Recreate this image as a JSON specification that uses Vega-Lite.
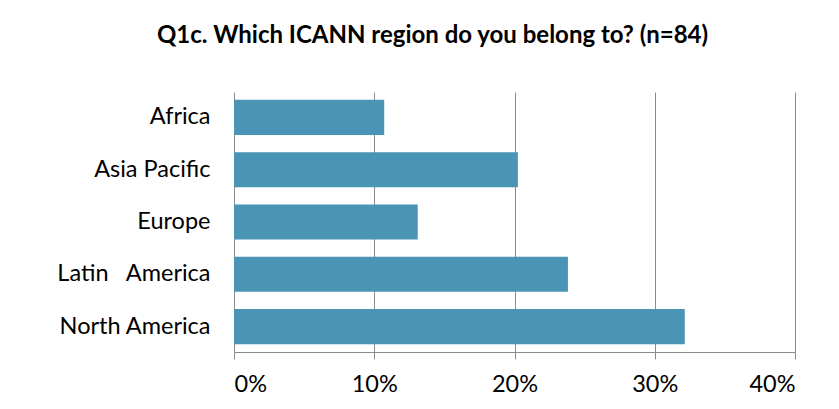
{
  "$schema": "https://vega.github.io/schema/vega-lite/v6.json",
  "autosize": "none",
  "width": 561,
  "height": 260,
  "padding": {"left": 234, "top": 92, "right": 44, "bottom": 57},
  "background": "white",
  "title": {
    "text": "Q1c. Which ICANN region do you belong to? (n=84)",
    "font": "Lato",
    "fontSize": 24,
    "fontWeight": "bold",
    "color": "#000000",
    "anchor": "middle",
    "dx": -82,
    "offset": 44
  },
  "data": {
    "values": [
      {"region": "Africa", "pct": 0.1071},
      {"region": "Asia Pacific", "pct": 0.2024},
      {"region": "Europe", "pct": 0.131},
      {"region": "Latin\u00a0\u00a0 America", "pct": 0.2381},
      {"region": "North America", "pct": 0.3214}
    ]
  },
  "mark": {"type": "bar", "color": "#4a95b6"},
  "encoding": {
    "y": {
      "field": "region",
      "type": "nominal",
      "sort": null,
      "scale": {"paddingInner": 0.33, "paddingOuter": 0.15},
      "axis": {
        "title": null,
        "domain": false,
        "ticks": false,
        "labelFont": "Lato",
        "labelFontSize": 23.5,
        "labelColor": "#000000",
        "labelPadding": 24
      }
    },
    "x": {
      "field": "pct",
      "type": "quantitative",
      "scale": {"domain": [0, 0.4], "nice": false},
      "axis": {
        "title": null,
        "format": ".0%",
        "values": [0, 0.1, 0.2, 0.3, 0.4],
        "grid": true,
        "gridColor": "#8a8a8a",
        "gridOpacity": 1,
        "domainColor": "#8a8a8a",
        "tickColor": "#8a8a8a",
        "tickSize": 7,
        "labelFont": "Lato",
        "labelFontSize": 23.5,
        "labelColor": "#000000",
        "labelPadding": 13
      }
    }
  },
  "config": {"view": {"stroke": null}}
}
